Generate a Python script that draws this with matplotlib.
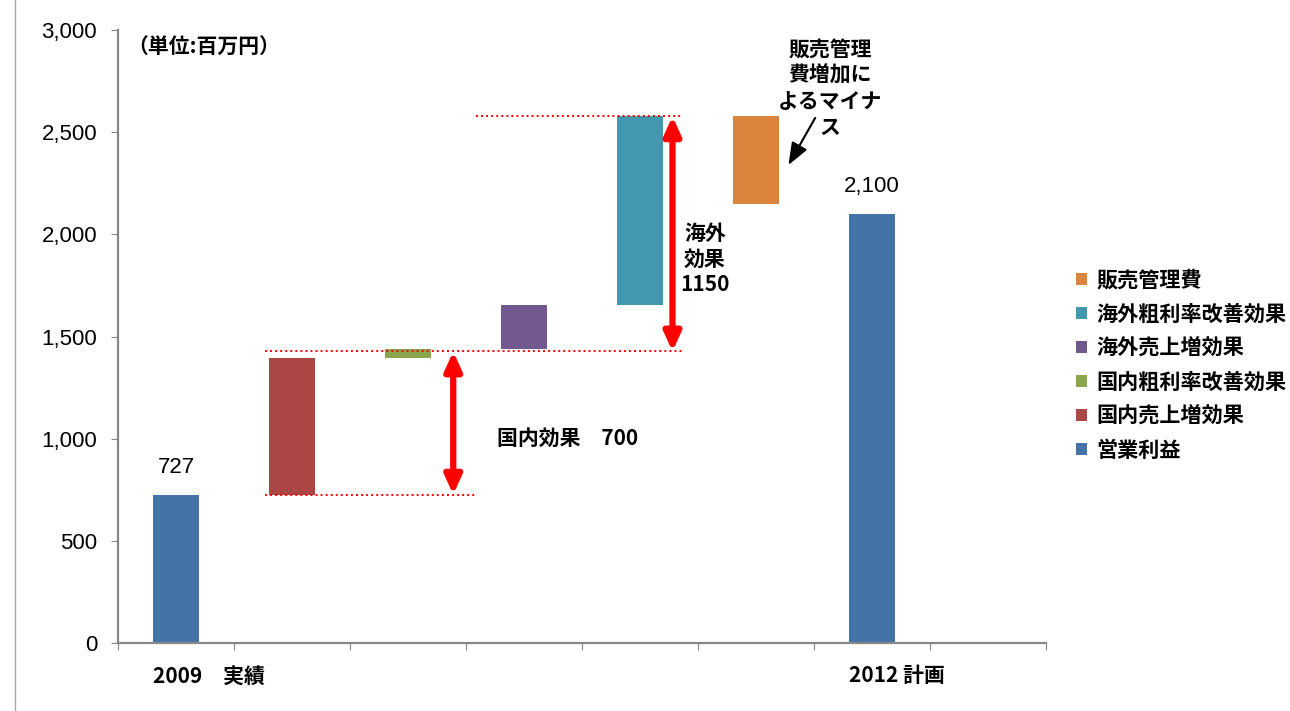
import matplotlib.pyplot as plt
from matplotlib.lines import Line2D
from matplotlib.patches import Patch
from matplotlib.ticker import FuncFormatter, MultipleLocator

plt.rcParams['font.family'] = ['Noto Sans CJK JP', 'DejaVu Sans']
num_font = ['Liberation Sans', 'DejaVu Sans']

# operating profit bridge, million yen
profit_2009 = 727
profit_2012 = 2100
step_values = [668, 45, 215, 925, -430]   # domestic sales, domestic margin, overseas sales, overseas margin, SG&A
domestic_effect = 700
overseas_effect = 1150

series_names = ['営業利益', '国内売上増効果', '国内粗利率改善効果',
                '海外売上増効果', '海外粗利率改善効果', '販売管理費']
series_colors = ['#4572A7', '#AA4643', '#89A54E', '#71588F', '#4198AF', '#DB843D']
x_labels = ['2009　実績', '', '', '', '', '', '2012 計画', '']

fig = plt.figure(figsize=(12.9, 7.11), dpi=100)
ax = fig.add_axes([118 / 1290, 1 - 643.3 / 711, 928 / 1290, 613.5 / 711])

bar_w = 0.4
ax.bar([0, 6], [profit_2009, profit_2012], width=bar_w, color=series_colors[0])
level = profit_2009
for i, (step, color) in enumerate(zip(step_values, series_colors[1:])):
    ax.bar(i + 1, step, bottom=level, width=bar_w, color=color)
    level += step

# value labels on the two profit bars
for x, v in [(0, profit_2009), (6, profit_2012)]:
    ax.annotate(f'{v:,}', (x, v), xytext=(0, 12), textcoords='offset points',
                ha='center', va='bottom', fontsize=16, family=num_font)

# axes styling
ax.set_xlim(-0.5, 7.5)
ax.set_ylim(0, 3000)
ax.yaxis.set_major_locator(MultipleLocator(500))
ax.yaxis.set_major_formatter(FuncFormatter(lambda v, p: f'{v:,.0f}'))
ax.tick_params(axis='y', labelsize=16, length=5, color='#868686', direction='out', pad=10)
for lbl in ax.get_yticklabels():
    lbl.set_family(num_font)
ax.set_xticks([i - 0.5 for i in range(9)])
ax.set_xticklabels([])
ax.tick_params(axis='x', length=5, color='#868686', direction='out')
for side in ['top', 'right']:
    ax.spines[side].set_visible(False)
for side in ['left', 'bottom']:
    ax.spines[side].set_color('#868686')
    ax.spines[side].set_linewidth(1.6)

for i, lab in enumerate(x_labels):
    if lab:
        ax.text(i - bar_w / 2, -0.053, lab, transform=ax.get_xaxis_transform(),
                ha='left', va='center', fontsize=15, fontweight='bold')

# effect brackets
domestic_top = profit_2009 + domestic_effect
overseas_top = domestic_top + overseas_effect
dot = (0, (1, 1.6))
ax.hlines(profit_2009, 0.77, 2.58, colors='red', linestyles=dot, lw=1.4)
ax.hlines(domestic_top, 0.77, 4.37, colors='red', linestyles=dot, lw=1.4)
ax.hlines(overseas_top, 2.59, 4.37, colors='red', linestyles=dot, lw=1.4)

red_arrow = dict(arrowstyle='<|-|>,head_length=0.55,head_width=0.25', color='red',
                 lw=4.5, mutation_scale=20, shrinkA=0, shrinkB=0)
ax.annotate('', xy=(2.39, domestic_top), xytext=(2.39, profit_2009), arrowprops=red_arrow)
ax.annotate('', xy=(4.28, overseas_top), xytext=(4.28, domestic_top), arrowprops=red_arrow)

ax.text(2.77, 1004, f'国内効果　{domestic_effect}', ha='left', va='center',
        fontsize=15, fontweight='bold')
ax.text(4.56, 1880, f'海外\n効果\n{overseas_effect}', ha='center', va='center',
        fontsize=15, fontweight='bold', linespacing=1.25)

ax.text(5.64, 2715, '販売管理\n費増加に\nよるマイナ\nス', ha='center', va='center',
        fontsize=15, fontweight='bold', linespacing=1.3)
ax.annotate('', xy=(5.28, 2339), xytext=(5.51, 2569),
            arrowprops=dict(arrowstyle='-|>,head_length=0.9,head_width=0.35', color='black',
                            lw=1.5, mutation_scale=15, shrinkA=0, shrinkB=0))

ax.text(-0.42, 2916, '（単位:百万円）', ha='left', va='center', fontsize=15, fontweight='bold')

# legend, stacked top to bottom in reverse series order
handles = [Patch(facecolor=c, edgecolor='none') for c in series_colors][::-1]
fig.legend(handles, series_names[::-1], loc='upper left', bbox_to_anchor=(1068 / 1290, 1 - 261 / 711),
           frameon=False, prop={'size': 15.2, 'weight': 'bold'}, handlelength=0.5, handleheight=0.5,
           handletextpad=0.45, labelspacing=0.62, borderaxespad=0)

fig.add_artist(Line2D([15 / 1290, 15 / 1290], [0, 1], color='#a6a6a6', lw=1))

fig.savefig('out.png', dpi=100)
